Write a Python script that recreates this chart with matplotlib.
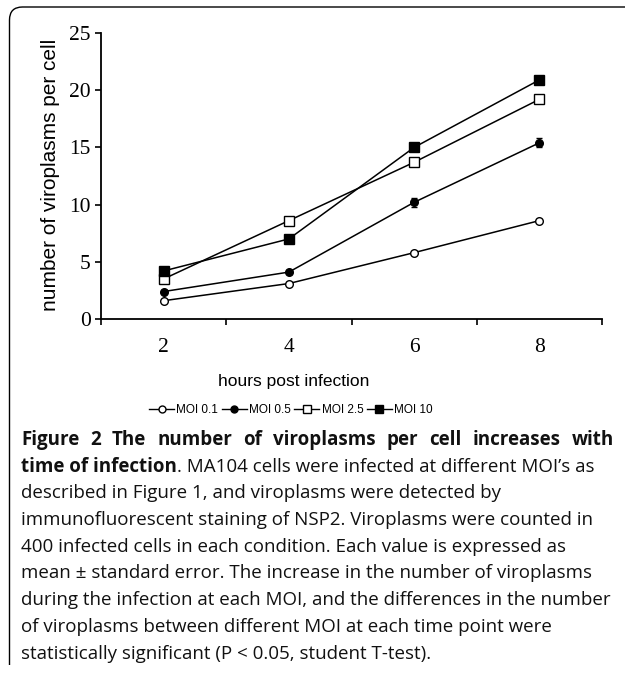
import matplotlib
matplotlib.use("Agg")
import matplotlib.pyplot as plt
from matplotlib.path import Path
from matplotlib.patches import PathPatch
from matplotlib.lines import Line2D

# data
hours = [2, 4, 6, 8]
moi_labels = ["MOI 0.1", "MOI 0.5", "MOI 2.5", "MOI 10"]
moi_01 = [1.6, 3.1, 5.8, 8.6]
moi_05 = [2.4, 4.1, 10.2, 15.4]
moi_25 = [3.5, 8.6, 13.7, 19.2]
moi_10 = [4.2, 7.0, 15.0, 20.9]
se_01 = [0.1, 0.1, 0.15, 0.15]
se_05 = [0.15, 0.15, 0.4, 0.4]
se_25 = [0.15, 0.2, 0.25, 0.25]
se_10 = [0.15, 0.2, 0.2, 0.25]

caption_lines = [
    "described in Figure 1, and viroplasms were detected by",
    "immunofluorescent staining of NSP2. Viroplasms were counted in",
    "400 infected cells in each condition. Each value is expressed as",
    "mean \u00b1 standard error. The increase in the number of viroplasms",
    "during the infection at each MOI, and the differences in the number",
    "of viroplasms between different MOI at each time point were",
    "statistically significant (P < 0.05, student T-test).",
]

W, H = 625, 674
fig = plt.figure(figsize=(W / 100, H / 100), dpi=100)

def fx(px):
    return px / W

def fy(py):
    return 1 - py / H

ax = fig.add_axes([fx(101), fy(319), fx(602) - fx(101), fy(33) - fy(319)])

series = [(moi_01, se_01, "o", "white"), (moi_05, se_05, "o", "black"),
          (moi_25, se_25, "s", "white"), (moi_10, se_10, "s", "black")]
handles = []
for (vals, err, mk, fc), lab in zip(series, moi_labels):
    ax.errorbar(hours, vals, yerr=err, color="black", lw=1.1, marker=mk,
                mfc=fc, mec="black", mew=1.0, ms=6.5 if mk == "s" else 5.5,
                capsize=2, elinewidth=1.0, clip_on=False)
    handles.append(Line2D([], [], color="black", lw=1.0, marker=mk, mfc=fc,
                          mec="black", ms=6 if mk == "s" else 5, label=lab))

ax.set_xlim(1, 9)
ax.set_ylim(0, 25)
ax.set_xticks([1, 3, 5, 7, 9])
ax.set_xticklabels([])
ax.set_xticks(hours, minor=True)
ax.set_xticklabels([str(h) for h in hours], minor=True,
                   fontfamily="Liberation Serif", fontsize=15.5)
ax.tick_params(axis="x", which="major", length=4.5, width=1.2, direction="out")
ax.tick_params(axis="x", which="minor", length=0, pad=14)
ax.set_yticks([0, 5, 10, 15, 20, 25])
ax.set_yticklabels(["0", "5", "10", "15", "20", "25"],
                   fontfamily="Liberation Serif", fontsize=15.5)
ax.tick_params(axis="y", length=4.5, width=1.2, direction="out", pad=3)
for s in ["top", "right"]:
    ax.spines[s].set_visible(False)
for s in ["left", "bottom"]:
    ax.spines[s].set_linewidth(1.3)

ax.set_xlabel("hours post infection", fontfamily="Liberation Sans", fontsize=12.5)
ax.xaxis.set_label_coords((293.5 - 101) / 501, (319 - 381) / 286)
ax.xaxis.label.set_va("center")
ax.set_ylabel("number of viroplasms per cell", fontfamily="Liberation Sans", fontsize=15)
ax.yaxis.set_label_coords((51 - 101) / 501, 0.503)
ax.yaxis.label.set_va("center")

leg = fig.legend(handles=handles, loc="center", bbox_to_anchor=(fx(291), fy(410)),
                 ncol=4, frameon=False, handlelength=2.1, handletextpad=0.2,
                 columnspacing=0.3, prop={"family": "Liberation Sans", "size": 8.5})

# frame around the panel
r = 13
verts = [(fx(9.5), fy(665)), (fx(9.5), fy(7 + r)), (fx(9.5), fy(7)),
         (fx(9.5 + r), fy(7)), (fx(630), fy(7))]
codes = [Path.MOVETO, Path.LINETO, Path.CURVE3, Path.CURVE3, Path.LINETO]
fig.add_artist(PathPatch(Path(verts, codes), transform=fig.transFigure,
                         fc="none", ec="black", lw=1.0))

# caption
cap_font = "Open Sans"
cap_size = 13.5
cap_color = "#111111"
cap_x = 21
line_y = [440 + 26.7 * i for i in range(9)]
renderer = fig.canvas.get_renderer()

# first line is bold and justified to the right edge
words = "Figure 2 The number of viroplasms per cell increases with".split()
word_txt = [fig.text(0, fy(line_y[0]), w, fontfamily=cap_font, fontweight="bold",
                     fontsize=cap_size, va="center", color=cap_color) for w in words]
widths = [t.get_window_extent(renderer).width for t in word_txt]
gap = (614 - cap_x - sum(widths)) / (len(words) - 1)
x = cap_x
for t, w in zip(word_txt, widths):
    t.set_x(fx(x))
    x += w + gap

t_bold = fig.text(fx(cap_x), fy(line_y[1]), "time of infection", fontfamily=cap_font,
                  fontweight="bold", fontsize=cap_size, va="center", color=cap_color)
bb = t_bold.get_window_extent(renderer)
fig.text(bb.x1 / fig.bbox.width, fy(line_y[1]),
         ". MA104 cells were infected at different MOI\u2019s as",
         fontfamily=cap_font, fontsize=cap_size, va="center", color=cap_color)
for i, line in enumerate(caption_lines):
    fig.text(fx(cap_x), fy(line_y[i + 2]), line, fontfamily=cap_font,
             fontsize=cap_size, va="center", color=cap_color)

fig.savefig("out.png", dpi=100)
